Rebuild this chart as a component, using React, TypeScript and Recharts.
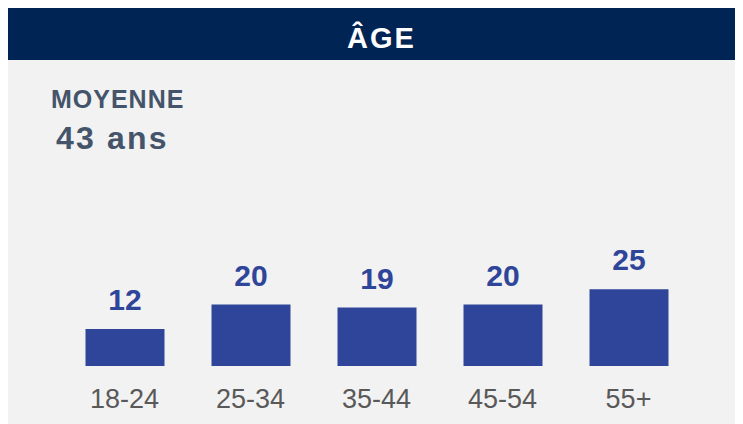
import { BarChart, Bar, XAxis, YAxis, LabelList } from "recharts"

const categories = ["18-24", "25-34", "35-44", "45-54", "55+"]
const shares     = [12, 20, 19, 20, 25]
const average    = "43 ans"

const data = categories.map((c, i) => ({ group: c, value: shares[i] }))

const font = "'Liberation Sans', Arial, sans-serif"

export default function App() {
    return (
        <div style={{ width: 734, height: 416, fontFamily: font, position: "relative" }}>
            <div style={{ height: 52, background: "#002454", position: "relative" }}>
                <div style={{
                    position: "absolute", top: 15.5, left: 0, width: 747, textAlign: "center",
                    color: "#fff", fontWeight: 700, fontSize: 29, lineHeight: 1, letterSpacing: 2,
                }}>
                    ÂGE
                </div>
            </div>
            <div style={{ height: 364, background: "#f2f2f2", position: "relative" }}>
                <div style={{
                    position: "absolute", top: 26.5, left: 43, color: "#44546A",
                    fontWeight: 700, fontSize: 25, lineHeight: 1, letterSpacing: 1,
                }}>
                    MOYENNE
                </div>
                <div style={{
                    position: "absolute", top: 61.5, left: 48, color: "#44546A",
                    fontWeight: 700, fontSize: 32, lineHeight: 1, letterSpacing: 2.2,
                }}>
                    {average}
                </div>
                <div style={{ position: "absolute", top: 0, left: 0 }}>
                    <BarChart
                        width={734}
                        height={364}
                        data={data}
                        margin={{ top: 183, right: 50.5, left: 53.5, bottom: 0 }}
                    >
                        <XAxis
                            dataKey="group"
                            axisLine={false}
                            tickLine={false}
                            tickSize={0}
                            tickMargin={23}
                            height={58}
                            interval={0}
                            tick={{ fill: "#595959", fontSize: 27, fontFamily: font }}
                        />
                        <YAxis hide domain={[0, 40]} />
                        <Bar dataKey="value" fill="#2E4599" barSize={79} isAnimationActive={false}>
                            <LabelList
                                dataKey="value"
                                position="top"
                                offset={19}
                                fill="#2E4599"
                                style={{ fontSize: 30, fontWeight: 700, fontFamily: font }}
                            />
                        </Bar>
                    </BarChart>
                </div>
            </div>
        </div>
    )
}
